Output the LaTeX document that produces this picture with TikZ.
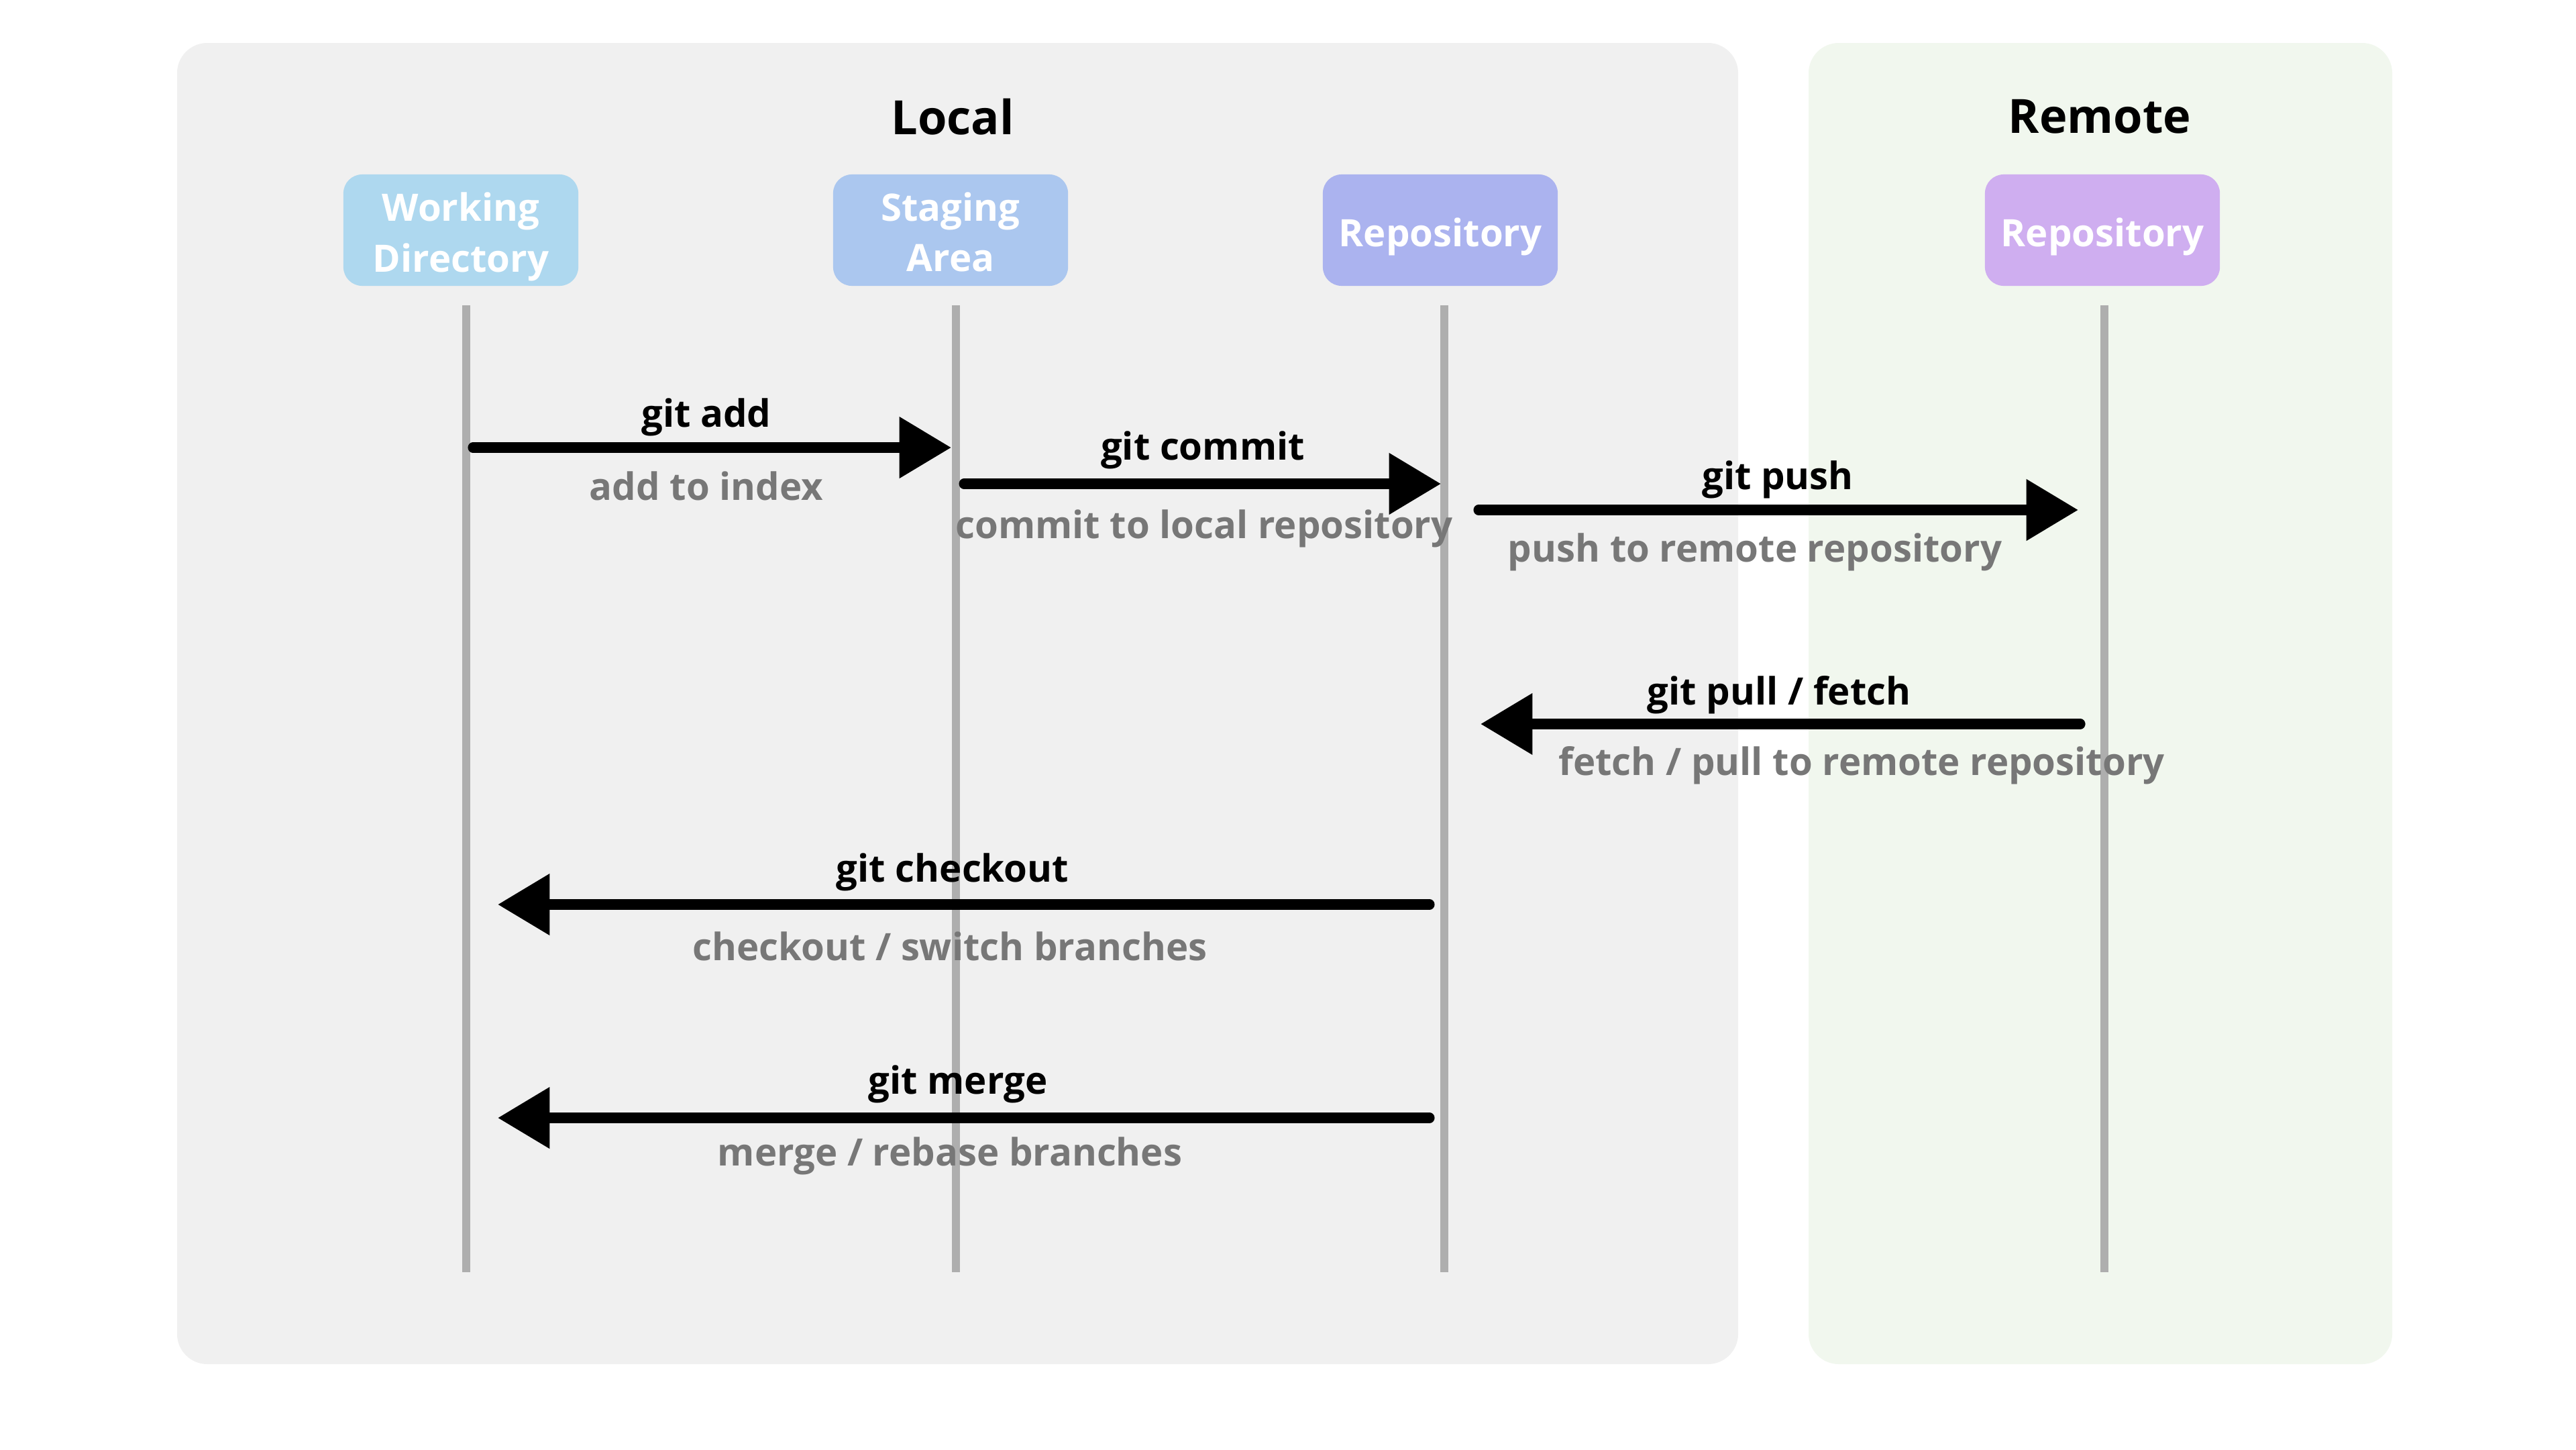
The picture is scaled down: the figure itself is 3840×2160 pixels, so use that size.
\documentclass[tikz,border=0pt]{standalone}
\usepackage{fontspec}
\setmainfont{Open Sans}
\usetikzlibrary{arrows.meta}
\definecolor{localbg}{HTML}{F0F0F0}
\definecolor{remotebg}{HTML}{F1F7EE}
\definecolor{wdcol}{HTML}{AED8EF}
\definecolor{stcol}{HTML}{ABC7EF}
\definecolor{repcol}{HTML}{ABB3EF}
\definecolor{remcol}{HTML}{CFAEF0}
\definecolor{lifecol}{HTML}{AEAEAE}
\definecolor{subcol}{HTML}{777777}
\tikzset{
  panel/.style={draw=none, rounded corners=0.45cm},
  title/.style={font=\fontsize{20}{24}\selectfont\bfseries, text=black},
  actor/.style={rounded corners=0.28cm, minimum width=3.5cm, minimum height=1.66cm, inner sep=0pt},
  actortext/.style={align=center, text=white, inner sep=0pt, font=\fontsize{16}{21.5}\selectfont\bfseries},
  lifeline/.style={draw=lifecol, line width=3.4pt},
  msg/.style={draw=black, line width=4.3pt, line cap=round, -{Triangle[length=22pt,width=25pt]}},
  cmd/.style={font=\fontsize{16}{19}\selectfont\bfseries, text=black, inner sep=0pt},
  desc/.style={font=\fontsize{16}{19}\selectfont\bfseries, text=subcol, inner sep=0pt},
}
\begin{document}
\begin{tikzpicture}[x=0.01cm, y=-0.01cm]
\useasboundingbox (0,0) rectangle (3840,2160);
\fill[white] (0,0) rectangle (3840,2160);
% panels
\fill[panel, localbg] (264,64) rectangle (2591,2033);
\fill[panel, remotebg] (2696,64) rectangle (3566,2033);
\node[title] (tlocal) at (1420,174) {Local};
\node[title] (tremote) at (3130,174) {Remote};
% actors
\node[actor, fill=wdcol] (wd) at (687,343) {};
\node[actor, fill=stcol] (st) at (1417,343) {};
\node[actor, fill=repcol] (rep) at (2147,343) {};
\node[actor, fill=remcol] (rem) at (3134,343) {};
\node[actortext] (wdt) at (687,353) {Working\\Directory};
\node[actortext] (stt) at (1417,346) {Staging\\Area};
\node[actortext] (rept) at (2147,353) {Repository};
\node[actortext] (remt) at (3134,353) {Repository};
% lifelines
\coordinate (wdT) at (695,455); \coordinate (wdB) at (695,1896);
\coordinate (stT) at (1425,455); \coordinate (stB) at (1425,1896);
\coordinate (repT) at (2153,455); \coordinate (repB) at (2153,1896);
\coordinate (remT) at (3137,455); \coordinate (remB) at (3137,1896);
\draw[lifeline] (wdT) -- (wdB);
\draw[lifeline] (stT) -- (stB);
\draw[lifeline] (repT) -- (repB);
\draw[lifeline] (remT) -- (remB);
% message endpoints
\coordinate (a1) at (705,667);  \coordinate (a2) at (1418,667);
\coordinate (c1) at (1437,721); \coordinate (c2) at (2148,721);
\coordinate (p1) at (2204,760); \coordinate (p2) at (3098,760);
\coordinate (f1) at (3101,1079); \coordinate (f2) at (2207,1079);
\coordinate (k1) at (2131,1348); \coordinate (k2) at (742,1348);
\coordinate (m1) at (2131,1666); \coordinate (m2) at (742,1666);
\draw[msg] (a1) -- (a2);
\draw[msg] (c1) -- (c2);
\draw[msg] (p1) -- (p2);
\draw[msg] (f1) -- (f2);
\draw[msg] (k1) -- (k2);
\draw[msg] (m1) -- (m2);
% labels
\node[cmd] (l1) at (1053,622) {git add};
\node[desc] (d1) at (1053,724) {add to index};
\node[cmd] (l2) at (1793,671) {git commit};
\node[desc] (d2) at (1795,788) {commit to local repository};
\node[cmd] (l3) at (2650,715) {git push};
\node[desc] (d3) at (2616,823) {push to remote repository};
\node[cmd] (l4) at (2652,1036) {git pull / fetch};
\node[desc] (d4) at (2775,1141) {fetch / pull to remote repository};
\node[cmd] (l5) at (1420,1300) {git checkout};
\node[desc] (d5) at (1416,1410) {checkout / switch branches};
\node[cmd] (l6) at (1428,1616) {git merge};
\node[desc] (d6) at (1416,1723) {merge / rebase branches};
\end{tikzpicture}
\end{document}
